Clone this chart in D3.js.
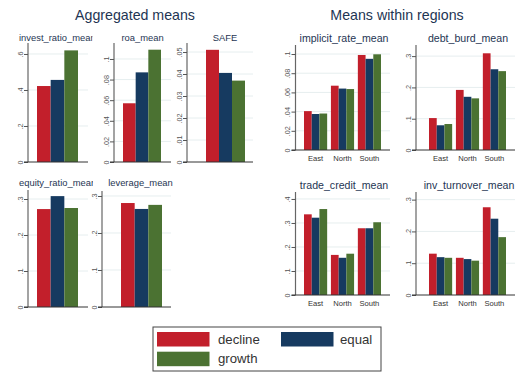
<!DOCTYPE html>
<html>
<head>
<meta charset="utf-8">
<script src="https://cdn.jsdelivr.net/npm/d3@7"></script>
<style>
  html, body { margin: 0; padding: 0; background: #fff; }
  svg { display: block; font-family: "Liberation Sans", Arial, sans-serif; }
</style>
</head>
<body>
<svg id="chart" width="530" height="372"></svg>
<script>
// Groups (bar series) and regions
const groups = ["decline", "equal", "growth"];
const regions = ["East", "North", "South"];
const groupColors = ["#c21f2b", "#163a60", "#4b7232"];

// Aggregated means, one value per group
const investRatio = [0.422, 0.456, 0.620];
const roa = [0.057, 0.087, 0.109];
const safe = [0.051, 0.0405, 0.037];
const equityRatio = [0.272, 0.308, 0.275];
const leverage = [0.281, 0.265, 0.276];

// Means within regions: rows = East, North, South; columns = decline, equal, growth
const implicitRate = [[0.0405, 0.0375, 0.038], [0.067, 0.064, 0.0635], [0.099, 0.095, 0.0997]];
const debtBurd = [[0.102, 0.079, 0.083], [0.192, 0.170, 0.165], [0.309, 0.258, 0.252]];
const tradeCredit = [[0.336, 0.322, 0.358], [0.167, 0.155, 0.172], [0.278, 0.278, 0.303]];
const invTurnover = [[0.130, 0.119, 0.117], [0.117, 0.113, 0.108], [0.276, 0.240, 0.182]];

// Tick values for each panel's y axis
const ticksInvest = [0, 0.2, 0.4, 0.6];
const ticksRoa = [0, 0.02, 0.04, 0.06, 0.08, 0.1];
const ticksSafe = [0, 0.01, 0.02, 0.03, 0.04, 0.05];
const ticksEquity = [0, 0.1, 0.2, 0.3];
const ticksLeverage = [0, 0.1, 0.2, 0.3];
const ticksImplicit = [0, 0.02, 0.04, 0.06, 0.08, 0.1];
const ticksDebt = [0, 0.1, 0.2, 0.3];
const ticksTrade = [0, 0.1, 0.2, 0.3, 0.4];
const ticksInv = [0, 0.1, 0.2, 0.3];

const svg = d3.select("#chart");
const titleColor = "#1e3553";
const fmt = d => d === 0 ? "0" : String(+d.toFixed(4)).replace(/^0\./, ".");

// Panel definitions (layout only; values come from the arrays above)
const panels = [
  { title: "invest_ratio_mean", values: investRatio, ticks: ticksInvest, yMax: 0.661, fs: 9.4,
    axisX: 28, right: 88, top: 43, base: 162, barL: 37, barR: 78, tx: 19, ty: 40.5, anchor: "start", clip: [0, 92.5] },
  { title: "roa_mean", values: roa, ticks: ticksRoa, yMax: 0.1155, fs: 9.4,
    axisX: 114, right: 171, top: 43, base: 162, barL: 123, barR: 161, tx: 142.5, ty: 40.5 },
  { title: "SAFE", values: safe, ticks: ticksSafe, yMax: 0.0541, fs: 9.4,
    axisX: 187, right: 253, top: 43, base: 162, barL: 206, barR: 245, tx: 225, ty: 40.5 },
  { title: "equity_ratio_mean", values: equityRatio, ticks: ticksEquity, yMax: 0.325, fs: 9.4,
    axisX: 28, right: 88, top: 190, base: 307, barL: 37, barR: 78, tx: 19, ty: 186, anchor: "start", clip: [0, 93] },
  { title: "leverage_mean", values: leverage, ticks: ticksLeverage, yMax: 0.3135, fs: 9.4,
    axisX: 102, right: 171, top: 191, base: 307, barL: 121, barR: 162, tx: 140.5, ty: 186 },
  { title: "implicit_rate_mean", values: implicitRate, ticks: ticksImplicit, yMax: 0.1094, regional: true, fs: 10.6,
    axisX: 295.5, right: 390, top: 45, base: 150, barL: 304, barR: 381, tx: 344, ty: 42 },
  { title: "debt_burd_mean", values: debtBurd, ticks: ticksDebt, yMax: 0.3355, regional: true, fs: 10.6,
    axisX: 416, right: 515, top: 45, base: 150, barL: 429, barR: 506, tx: 468, ty: 42 },
  { title: "trade_credit_mean", values: tradeCredit, ticks: ticksTrade, yMax: 0.429, regional: true, fs: 10.6,
    axisX: 295.5, right: 390, top: 192, base: 295, barL: 304, barR: 381, tx: 344, ty: 189 },
  { title: "inv_turnover_mean", values: invTurnover, ticks: ticksInv, yMax: 0.324, regional: true, fs: 10.6,
    axisX: 416, right: 515, top: 192, base: 295, barL: 429, barR: 506, tx: 469, ty: 189 }
];

// Group titles
svg.append("text").attr("x", 135).attr("y", 20).attr("text-anchor", "middle")
  .attr("font-size", 14.2).attr("fill", titleColor).text("Aggregated means");
svg.append("text").attr("x", 397).attr("y", 20).attr("text-anchor", "middle")
  .attr("font-size", 14.2).attr("fill", titleColor).text("Means within regions");

const defs = svg.append("defs");

panels.forEach((p, i) => {
  const g = svg.append("g");
  const y = d3.scaleLinear().domain([0, p.yMax]).range([p.base, p.top]);

  // grid lines
  g.selectAll("line.grid").data(p.ticks.filter(t => t > 0)).join("line")
    .attr("x1", p.axisX).attr("x2", p.right)
    .attr("y1", d => y(d)).attr("y2", d => y(d))
    .attr("stroke", "#e6eeef").attr("stroke-width", 1);

  // bars
  if (p.regional) {
    const x0 = d3.scaleBand().domain(regions).range([p.barL, p.barR]).paddingInner(0.14).paddingOuter(0);
    const x1 = d3.scaleBand().domain(groups).range([0, x0.bandwidth()]);
    regions.forEach((r, ri) => {
      g.selectAll(null).data(p.values[ri]).join("rect")
        .attr("x", (d, gi) => x0(r) + x1(groups[gi]))
        .attr("width", x1.bandwidth())
        .attr("y", d => y(d)).attr("height", d => y(0) - y(d))
        .attr("fill", (d, gi) => groupColors[gi]);
    });
    // category labels
    g.selectAll("text.cat").data(regions).join("text")
      .attr("x", d => x0(d) + x0.bandwidth() / 2).attr("y", p.base + 11)
      .attr("text-anchor", "middle").attr("font-size", 7.6).attr("fill", "#333")
      .text(d => d);
  } else {
    const x = d3.scaleBand().domain(groups).range([p.barL, p.barR]);
    g.selectAll(null).data(p.values).join("rect")
      .attr("x", (d, gi) => x(groups[gi])).attr("width", x.bandwidth())
      .attr("y", d => y(d)).attr("height", d => y(0) - y(d))
      .attr("fill", (d, gi) => groupColors[gi]);
  }

  // y axis
  const yAxis = d3.axisLeft(y).tickValues(p.ticks).tickSize(4).tickPadding(2).tickFormat(fmt);
  const ax = g.append("g").attr("transform", `translate(${p.axisX},0)`).call(yAxis);
  ax.select(".domain").attr("stroke", "#666").attr("stroke-width", 1.2)
    .attr("d", `M0,${p.top}V${p.base}`);
  ax.selectAll(".tick line").attr("stroke", "#555");
  ax.selectAll(".tick text")
    .attr("font-family", "Liberation Sans, Arial, sans-serif")
    .attr("font-size", 7.3).attr("fill", "#555")
    .attr("x", null).attr("dy", null)
    .attr("text-anchor", "middle")
    .attr("transform", "translate(-7.5,0) rotate(-90)")
    .attr("y", 0).attr("dy", "0.32em");

  // x baseline
  g.append("line").attr("x1", p.axisX - 4).attr("x2", p.right)
    .attr("y1", p.base).attr("y2", p.base).attr("stroke", "#333").attr("stroke-width", 1);

  // subtitle
  const t = svg.append("text").attr("x", p.tx).attr("y", p.ty)
    .attr("text-anchor", p.anchor || "middle").attr("font-size", p.fs)
    .attr("fill", titleColor).text(p.title);
  if (p.clip) {
    const id = "clip" + i;
    defs.append("clipPath").attr("id", id).append("rect")
      .attr("x", p.clip[0]).attr("y", p.ty - 15).attr("width", p.clip[1] - p.clip[0]).attr("height", 20);
    t.attr("clip-path", `url(#${id})`);
  }
});

// Legend
const lg = svg.append("g");
lg.append("rect").attr("x", 153).attr("y", 327).attr("width", 228).attr("height", 44)
  .attr("fill", "#fff").attr("stroke", "#444").attr("stroke-width", 1);
const legendPos = [[157, 332], [281, 332], [157, 351.7]];
const legendText = [[218, 344], [340, 344], [218, 363]];
groups.forEach((name, gi) => {
  lg.append("rect").attr("x", legendPos[gi][0]).attr("y", legendPos[gi][1])
    .attr("width", 52.5).attr("height", 14.5).attr("fill", groupColors[gi]);
  lg.append("text").attr("x", legendText[gi][0]).attr("y", legendText[gi][1])
    .attr("font-size", 13.2).attr("fill", "#333").text(name);
});
</script>
</body>
</html>
